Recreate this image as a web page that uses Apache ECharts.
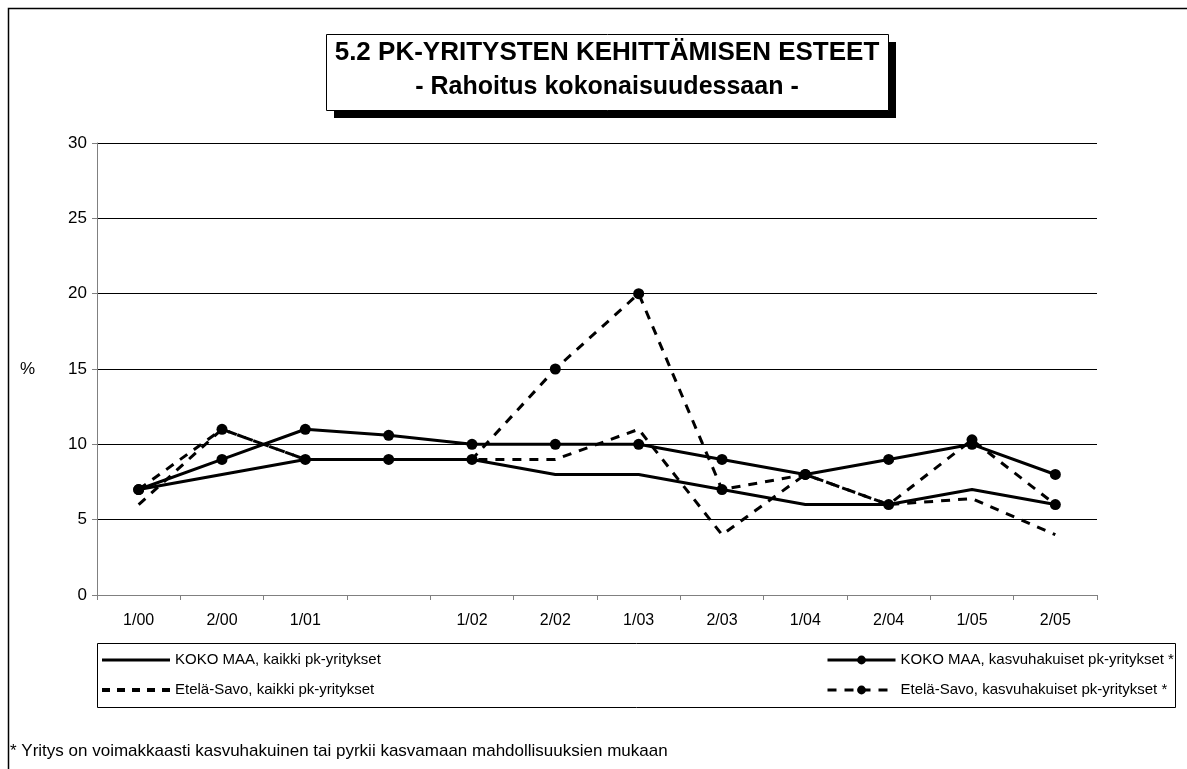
<!DOCTYPE html>
<html>
<head>
<meta charset="utf-8">
<script src="https://cdn.jsdelivr.net/npm/echarts@6/dist/echarts.min.js"></script>
<style>
html, body { margin: 0; padding: 0; background: #fff; }
#chart { width: 1187px; height: 769px; }
</style>
</head>
<body>
<div id="chart"></div>
<script>
// kategoriat (puolivuosittain, 2/01 puuttuu)
var categories = ['1/00', '2/00', '1/01', '', '1/02', '2/02', '1/03', '2/03', '1/04', '2/04', '1/05', '2/05']
var seriesNames = [
  'KOKO MAA, kaikki pk-yritykset',
  'KOKO MAA, kasvuhakuiset pk-yritykset *',
  'Etelä-Savo, kaikki pk-yritykset',
  'Etelä-Savo, kasvuhakuiset pk-yritykset *'
]
var kokoKaikki = [7, 8, 9, 9, 9, 8, 8, 7, 6, 6, 7, 6]
var kokoKasvu = [7, 9, 11, 10.6, 10, 10, 10, 9, 8, 9, 10, 8]
var etelaKaikki = [6, 11, 9, 9, 9, 9, 11, 4, 8, 6, 6.4, 4]
var etelaKasvu = [7, 11, 9, 9, 9, 15, 20, 7, 8, 6, 10.3, 6]
var yMin = 0
var yMax = 30
var yStep = 5

var font = 'Arial, "Liberation Sans", sans-serif'
var chart = echarts.init(document.getElementById('chart'), null, { renderer: 'canvas' })

// legendan ikonit ilman pistettä
var solidIcon = 'path://M0,0h68v3h-68z'
var dashIcon = 'path://M0,0h8v4h-8zM15,0h8v4h-8zM30,0h8v4h-8zM45,0h8v4h-8zM60,0h8v4h-8z'

// legendit: yksi kullekin, jotta saadaan kaksi saraketta
function legendAt (name, left, top, icon) {
  return {
    data: [icon ? { name: name, icon: icon } : name],
    left: left,
    top: top,
    padding: 0,
    itemWidth: 68,
    itemHeight: icon ? (icon === solidIcon ? 3 : 4) : 11,
    selectedMode: false,
    lineStyle: { width: 3 },
    textStyle: { fontFamily: font, fontSize: 15, color: '#000', lineHeight: 18 }
  }
}

function lineSeries (name, data, dashed, marker) {
  return {
    name: name,
    type: 'line',
    data: data,
    symbol: marker ? 'circle' : 'none',
    symbolSize: 11,
    showAllSymbol: true,
    animation: false,
    itemStyle: { color: '#000' },
    lineStyle: { color: '#000', width: 3, type: dashed ? [9, 8] : 'solid' },
    emphasis: { disabled: true }
  }
}

var option = {
  animation: false,
  grid: { left: 97, right: 90, top: 143, bottom: 174 },
  legend: [
    legendAt(seriesNames[0], 102, 651, solidIcon),
    legendAt(seriesNames[1], 826, 651),
    legendAt(seriesNames[2], 102, 681, dashIcon),
    legendAt(seriesNames[3], 826, 681)
  ],
  xAxis: {
    type: 'category',
    data: categories,
    boundaryGap: true,
    axisLine: { lineStyle: { color: '#808080', width: 1 } },
    axisTick: { show: true, alignWithLabel: false, length: 5, lineStyle: { color: '#808080' } },
    axisLabel: { interval: 0, margin: 18, fontFamily: font, fontSize: 16, color: '#000' },
    splitLine: { show: false }
  },
  yAxis: {
    type: 'value',
    min: yMin,
    max: yMax,
    interval: yStep,
    name: '%',
    nameLocation: 'middle',
    nameRotate: 0,
    nameGap: 62,
    nameTextStyle: { fontFamily: font, fontSize: 17, color: '#000' },
    axisLine: { show: true, lineStyle: { color: '#808080', width: 1 } },
    axisTick: { show: true, length: 5, lineStyle: { color: '#808080' } },
    axisLabel: { margin: 10, fontFamily: font, fontSize: 17, color: '#000' },
    splitLine: { lineStyle: { color: '#000', width: 1 } }
  },
  series: [
    lineSeries(seriesNames[0], kokoKaikki, false, false),
    lineSeries(seriesNames[1], kokoKasvu, false, true),
    lineSeries(seriesNames[2], etelaKaikki, true, false),
    lineSeries(seriesNames[3], etelaKasvu, true, true)
  ],
  graphic: [
    // ulkokehys
    { type: 'rect', shape: { x: 8.5, y: 8.5, width: 1300, height: 900 }, style: { fill: 'none', stroke: '#000', lineWidth: 1.5 }, silent: true },
    // otsikkolaatikko varjoineen
    { type: 'rect', shape: { x: 334, y: 42, width: 562, height: 76 }, style: { fill: '#000' }, silent: true },
    { type: 'rect', shape: { x: 326.5, y: 34.5, width: 562, height: 76 }, style: { fill: '#fff', stroke: '#000', lineWidth: 1 }, silent: true },
    { type: 'text', x: 607, y: 53, style: { text: '5.2 PK-YRITYSTEN KEHITTÄMISEN ESTEET', font: 'bold 26px ' + font, fill: '#000', align: 'center', verticalAlign: 'middle' }, silent: true },
    { type: 'text', x: 607, y: 87, style: { text: '- Rahoitus kokonaisuudessaan -', font: 'bold 25px ' + font, fill: '#000', align: 'center', verticalAlign: 'middle' }, silent: true },
    // legendan kehys
    { type: 'rect', shape: { x: 97.5, y: 643.5, width: 1078, height: 64 }, style: { fill: 'none', stroke: '#000', lineWidth: 1 }, silent: true, z: -1 },
    // alaviite
    { type: 'text', x: 10, y: 751, style: { text: '* Yritys on voimakkaasti kasvuhakuinen tai pyrkii kasvamaan mahdollisuuksien mukaan', font: '17px ' + font, fill: '#000', verticalAlign: 'middle' }, silent: true }
  ]
}

chart.setOption(option)
</script>
</body>
</html>
